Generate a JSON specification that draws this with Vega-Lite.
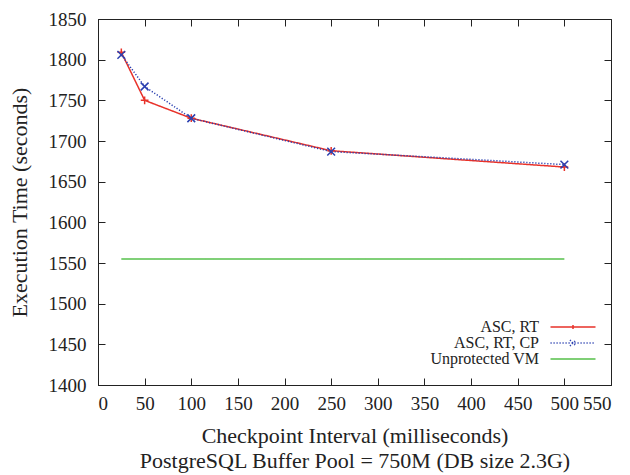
{
  "$schema": "https://vega.github.io/schema/vega-lite/v6.json",
  "autosize": "none",
  "width": 513,
  "height": 366,
  "padding": {"left": 98, "top": 19, "right": 19, "bottom": 90},
  "background": "white",
  "config": {
    "font": "Liberation Serif",
    "view": {"stroke": "#222222", "strokeWidth": 1}
  },
  "data": {
    "values": [
      {"x": 25, "y": 1809, "series": "ASC, RT"},
      {"x": 50, "y": 1750, "series": "ASC, RT"},
      {"x": 100, "y": 1728, "series": "ASC, RT"},
      {"x": 250, "y": 1688, "series": "ASC, RT"},
      {"x": 500, "y": 1668, "series": "ASC, RT"},
      {"x": 25, "y": 1806, "series": "ASC, RT, CP"},
      {"x": 50, "y": 1767, "series": "ASC, RT, CP"},
      {"x": 100, "y": 1728, "series": "ASC, RT, CP"},
      {"x": 250, "y": 1687, "series": "ASC, RT, CP"},
      {"x": 500, "y": 1671, "series": "ASC, RT, CP"},
      {"x": 25, "y": 1555, "series": "Unprotected VM"},
      {"x": 500, "y": 1555, "series": "Unprotected VM"}
    ]
  },
  "resolve": {"axis": {"x": "independent", "y": "independent"}},
  "layer": [
    {
      "mark": {"type": "line", "strokeWidth": 1.5},
      "encoding": {
        "x": {
          "field": "x", "type": "quantitative",
          "scale": {"domain": [0, 550], "nice": false},
          "axis": {
            "orient": "bottom",
            "values": [0,50,100,150,200,250,300,350,400,450,500,550],
            "format": "d",
            "grid": false,
            "labelOverlap": false,
            "labelFont": "Liberation Serif",
            "labelFontSize": 19,
            "labelColor": "#222222",
            "domainColor": "#222222",
            "tickColor": "#222222",
            "tickSize": -7,
            "labelPadding": 16,
            "title": ["Checkpoint Interval (milliseconds)", "PostgreSQL Buffer Pool = 750M (DB size 2.3G)"],
            "titleFont": "Liberation Serif",
            "titleFontSize": 22,
            "titleFontWeight": "normal",
            "titleColor": "#222222",
            "titleLineHeight": 25,
            "titlePadding": 12
          }
        },
        "y": {
          "field": "y", "type": "quantitative",
          "scale": {"domain": [1400, 1850], "nice": false, "zero": false},
          "axis": {
            "orient": "left",
            "values": [1400,1450,1500,1550,1600,1650,1700,1750,1800,1850],
            "format": "d",
            "grid": false,
            "labelOverlap": false,
            "labelFont": "Liberation Serif",
            "labelFontSize": 19,
            "labelColor": "#222222",
            "domainColor": "#222222",
            "tickColor": "#222222",
            "tickSize": -7,
            "labelPadding": 19,
            "title": "Execution Time (seconds)",
            "titleFont": "Liberation Serif",
            "titleFontSize": 22,
            "titleFontWeight": "normal",
            "titleColor": "#222222",
            "titlePadding": 17
          }
        },
        "color": {
          "field": "series", "type": "nominal",
          "scale": {"domain": ["ASC, RT", "ASC, RT, CP", "Unprotected VM"], "range": ["#e8322a", "#2a3fb0", "#55c04a"]},
          "legend": {
            "orient": "none",
            "legendX": 467,
            "legendY": 300,
            "title": null,
            "symbolType": "stroke",
            "symbolSize": 100,
            "symbolStrokeWidth": 1.5,
            "labelAlign": "right",
            "labelOffset": -42,
            "labelFontSize": 16,
            "labelFont": "Liberation Serif",
            "labelColor": "#222222",
            "rowPadding": 0,
            "encode": {
              "symbols": {
                "update": {
                  "shape": {"signal": "datum.value == 'ASC, RT' ? 'M-4.5,0L4.5,0M0,-0.4L0,0.4' : datum.value == 'ASC, RT, CP' ? 'M-4.5,0L4.5,0M-0.6,-0.6L0.6,0.6M-0.6,0.6L0.6,-0.6' : 'M-4.5,0L4.5,0'"},
                  "strokeDash": {"signal": "datum.value == 'ASC, RT, CP' ? [1.2,1.8] : [1,0]"}
                }
              }
            }
          }
        },
        "strokeDash": {
          "field": "series", "type": "nominal",
          "scale": {"domain": ["ASC, RT", "ASC, RT, CP", "Unprotected VM"], "range": [[1,0],[1.2,1.8],[1,0]]},
          "legend": null
        }
      }
    },
    {
      "transform": [{"filter": "datum.series != 'Unprotected VM'"}],
      "mark": {"type": "point", "filled": false, "strokeWidth": 1.5, "size": 60, "opacity": 1},
      "encoding": {
        "x": {
          "field": "x", "type": "quantitative",
          "scale": {"domain": [0, 550], "nice": false},
          "axis": {"orient": "top", "values": [0,50,100,150,200,250,300,350,400,450,500,550], "labels": false, "title": null, "domain": false, "grid": false, "tickSize": -7, "tickColor": "#222222"}
        },
        "y": {
          "field": "y", "type": "quantitative",
          "scale": {"domain": [1400, 1850], "nice": false, "zero": false},
          "axis": {"orient": "right", "values": [1400,1450,1500,1550,1600,1650,1700,1750,1800,1850], "labels": false, "title": null, "domain": false, "grid": false, "tickSize": -7, "tickColor": "#222222"}
        },
        "color": {
          "field": "series", "type": "nominal",
          "scale": {"domain": ["ASC, RT", "ASC, RT, CP", "Unprotected VM"], "range": ["#e8322a", "#2a3fb0", "#55c04a"]},
          "legend": null
        },
        "shape": {
          "field": "series", "type": "nominal",
          "scale": {"domain": ["ASC, RT", "ASC, RT, CP"], "range": ["M-1,0L1,0M0,-1L0,1", "M-1,-1L1,1M-1,1L1,-1"]},
          "legend": null
        }
      }
    }
  ]
}
